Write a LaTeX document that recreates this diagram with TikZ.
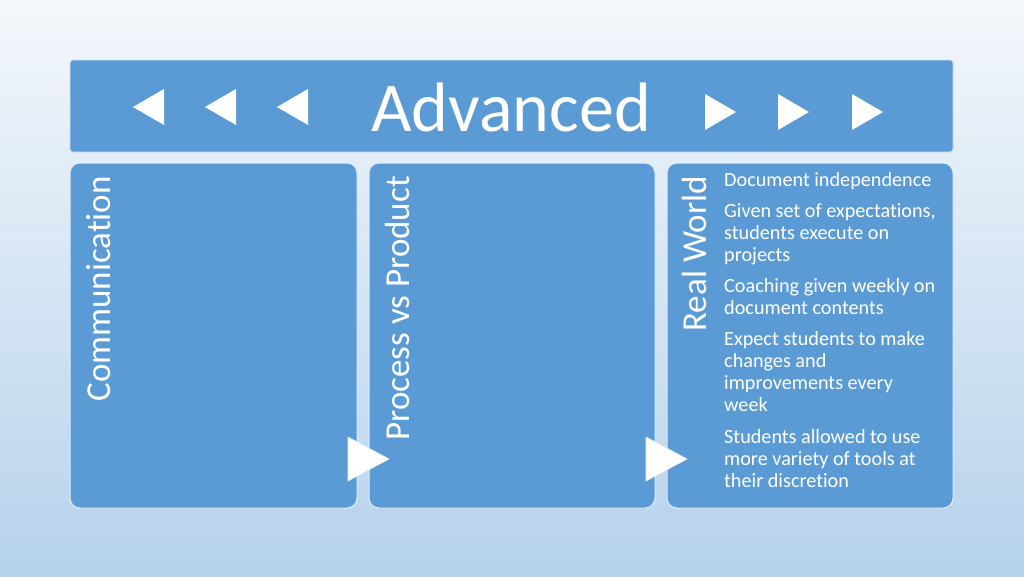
\documentclass[tikz,border=0pt]{standalone}
\usepackage{fontspec}
\setmainfont{Carlito}[Ligatures=NoCommon]
\usetikzlibrary{positioning}

\definecolor{boxblue}{RGB}{91,155,213}
\definecolor{bgtop}{RGB}{244,247,251}
\definecolor{bgbot}{RGB}{182,210,236}

\begin{document}
\begin{tikzpicture}[x=1pt, y=-1pt,
		banner/.style={fill=boxblue, draw=white!70!boxblue, line width=0.8pt, rounded corners=3pt},
		stage/.style={fill=boxblue, draw=white!80!boxblue, line width=1pt, rounded corners=10pt},
		stage title/.style={rotate=90, anchor=east, text=white, font=\fontsize{35}{40}\selectfont, inner sep=0pt},
		bullets/.style={anchor=north west, align=left, text=white, inner sep=0pt, font=\fontsize{20.2}{22}\selectfont},
		arrowhead/.style={fill=white, draw=white!85!boxblue, line width=0.6pt}]

	% background
	\shade[top color=bgtop, bottom color=bgbot] (0,0) rectangle (1024,576);
	\useasboundingbox (0,0) rectangle (1024,576);

	% banner
	\draw[banner] (70,60) rectangle (953,152);
	\node[text=white, font=\fontsize{70}{72}\selectfont, inner sep=0pt] (adv) at (511,107) {Advanced};
	\foreach \x in {133,205,277}
		\fill[white] (\x,107) -- (\x+31,89) -- (\x+31,125) -- cycle;
	\foreach \x in {705,778,852}
		\fill[white] (\x+31,112) -- (\x,94) -- (\x,130) -- cycle;

	% stages
	\draw[stage] (70,163) rectangle (357,508);
	\draw[stage] (369,163) rectangle (655,508);
	\draw[stage] (667,163) rectangle (953,508);

	\node[stage title] (comm) at (99,176) {Communication};
	\node[stage title] (proc) at (397,176) {Process vs Product};
	\node[stage title] (real) at (694,176) {Real World};

	% arrows between stages
	\draw[arrowhead] (348,437) -- (389,459) -- (348,481) -- cycle;
	\draw[arrowhead] (646,437) -- (687,459) -- (646,481) -- cycle;

	% real world items
	\node[bullets] (items) at (724,172) {Document independence\\[9pt]
		Given set of expectations,\\students execute on\\projects\\[9pt]
		Coaching given weekly on\\document contents\\[9pt]
		Expect students to make\\changes and\\improvements every\\week\\[10pt]
		Students allowed to use\\more variety of tools at\\their discretion};
\end{tikzpicture}
\end{document}
